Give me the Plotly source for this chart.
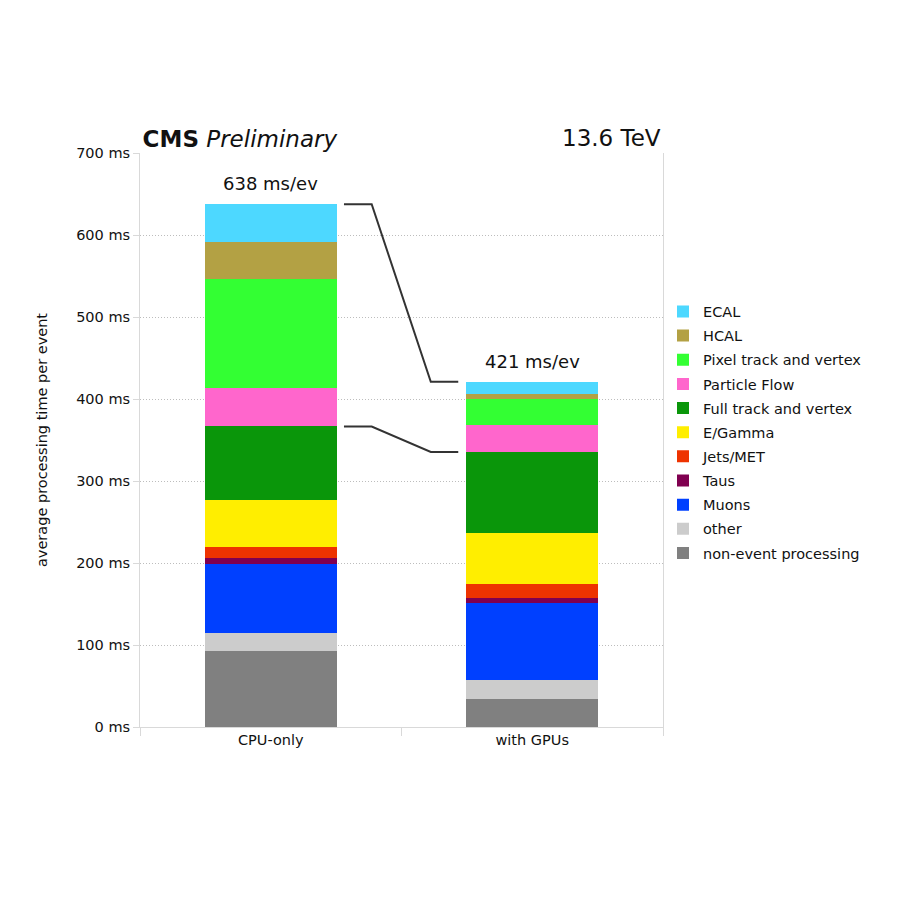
import plotly.graph_objects as go

categories = ["CPU-only", "with GPUs"]
components = ["non-event processing", "other", "Muons", "Taus", "Jets/MET",
              "E/Gamma", "Full track and vertex", "Particle Flow",
              "Pixel track and vertex", "HCAL", "ECAL"]
cpu_values = [93, 21.5, 84.5, 6.5, 14.5, 57, 89.5, 47, 133, 45, 46]
gpu_values = [34, 23, 94, 6.5, 16.5, 62.5, 99, 33, 32, 6, 14.5]
totals_labels = ["638 ms/ev", "421 ms/ev"]
colors = ["#808080", "#cccccc", "#0040ff", "#800050", "#ee3300",
          "#ffee00", "#0a960a", "#ff66cc", "#33ff33", "#b3a144", "#4dd8ff"]

FONT = "DejaVu Sans"
fig = go.Figure()
n = len(components)
for i, name in enumerate(components):
    fig.add_trace(go.Bar(
        x=categories, y=[cpu_values[i], gpu_values[i]], name=name,
        marker=dict(color=colors[i], line=dict(width=0)),
        legendgroup=name, legendrank=n - i, hoverinfo="name+y",
    ))

# connector lines between CPU and GPU bars
bar_half = 0.25
cpu_total = sum(cpu_values)
gpu_total = sum(gpu_values)
full_idx = components.index("Full track and vertex")
cpu_full = sum(cpu_values[:full_idx + 1])
gpu_full = sum(gpu_values[:full_idx + 1])
for yc, yg in [(cpu_total, gpu_total), (cpu_full, gpu_full)]:
    x0 = 0 + bar_half + 0.03
    x1 = 0 + bar_half + 0.136
    x2 = 1 - bar_half - 0.138
    x3 = 1 - bar_half - 0.033
    fig.add_shape(type="path", xref="x", yref="y",
                  path=f"M {x0},{yc} L {x1},{yc} L {x2},{yg} L {x3},{yg}",
                  line=dict(color="#333333", width=2))

for cat, tot, lab in zip(categories, [cpu_total, gpu_total], totals_labels):
    fig.add_annotation(x=cat, y=tot, text=lab, showarrow=False,
                       yanchor="bottom", yshift=8,
                       font=dict(family=FONT, size=18, color="#111111"))

fig.add_annotation(xref="paper", yref="paper", x=1.0, y=1.0,
                   xanchor="right", yanchor="bottom", text="13.6 TeV",
                   showarrow=False, font=dict(family=FONT, size=23, color="#111111"))

fig.update_layout(
    width=900, height=900,
    barmode="stack", bargap=0.497,
    paper_bgcolor="white", plot_bgcolor="white",
    margin=dict(l=140, r=237, t=153, b=173),
    font=dict(family=FONT, size=14.5, color="#111111"),
    title=dict(text="<b>CMS</b> <i>Preliminary</i>", x=0.005, xref="paper",
               xanchor="left", y=1.0, yref="paper", yanchor="bottom",
               pad=dict(t=0, b=6, l=0, r=0),
               font=dict(family=FONT, size=23, color="#111111")),
    legend=dict(x=1.0, xanchor="left", y=0.513, yanchor="middle",
                traceorder="grouped", tracegroupgap=2.3,
                font=dict(family=FONT, size=14.5, color="#111111"),
                bgcolor="rgba(0,0,0,0)"),
    showlegend=True,
)
fig.update_xaxes(showline=True, linecolor="#d9d9d9", linewidth=1,
                 ticks="outside", tickson="boundaries", ticklen=8,
                 tickcolor="#d9d9d9", showgrid=False,
                 tickfont=dict(family=FONT, size=14.5, color="#111111"))
fig.update_yaxes(range=[0, 700], dtick=100, ticksuffix=" ms",
                 showline=True, mirror=True, linecolor="#d9d9d9", linewidth=1,
                 ticks="outside", ticklen=6, tickcolor="#d9d9d9",
                 showgrid=True, gridcolor="#bdbdbd", griddash="1px,2px", gridwidth=1,
                 zeroline=False,
                 title=dict(text="average processing time per event", standoff=25,
                            font=dict(family=FONT, size=14.5, color="#111111")),
                 tickfont=dict(family=FONT, size=14.5, color="#111111"))

fig.write_html("out.html")
